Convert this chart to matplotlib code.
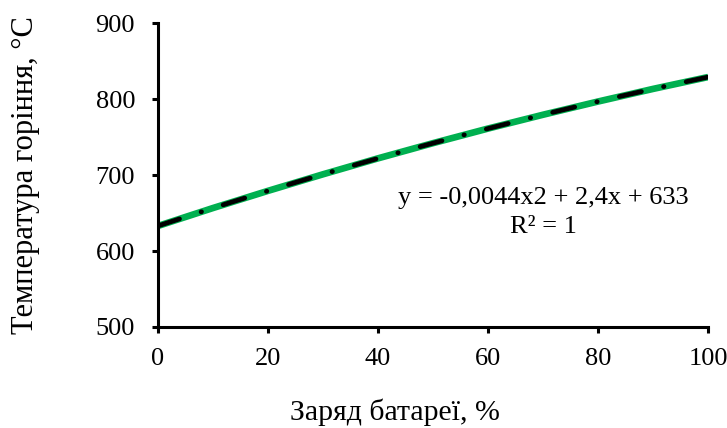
import numpy as np
import matplotlib
matplotlib.use('Agg')
import matplotlib.pyplot as plt

# Battery charge (%) vs combustion temperature (°C)
charge = [0, 10, 20, 30, 40, 50, 60, 70, 80, 90, 100]
temperature = [633, 656.6, 679.2, 701.0, 722.0, 742.0, 761.2, 779.4, 796.8, 813.4, 829]

x_ticks = [0, 20, 40, 60, 80, 100]
y_ticks = [500, 600, 700, 800, 900]

plt.rcParams['font.family'] = ['Liberation Serif', 'DejaVu Serif']

fig = plt.figure(figsize=(7.27, 4.28), dpi=100)
ax = fig.add_axes([0.2173, 0.236, 0.7567, 0.71])

# data line
ax.plot(charge, temperature, color='#00B050', linewidth=4.8, solid_capstyle='butt', zorder=2)

# polynomial trendline (2nd order)
coef = np.polyfit(charge, temperature, 2)
xs = np.linspace(charge[0], charge[-1], 200)
ax.plot(xs, np.polyval(coef, xs), color='black', linewidth=3.4,
        dashes=(4.8, 4.8, 0.1, 4.8), dash_capstyle='round', zorder=3)

ax.text(0.70, 0.424, 'y = -0,0044x2 + 2,4x + 633', transform=ax.transAxes,
        ha='center', va='center', fontsize=19)
ax.text(0.70, 0.33, 'R² = 1', transform=ax.transAxes,
        ha='center', va='center', fontsize=19)

ax.set_xlim(0, 100)
ax.set_ylim(500, 900)
ax.set_xticks(x_ticks)
ax.set_yticks(y_ticks)

for side in ['top', 'right']:
    ax.spines[side].set_visible(False)
for side in ['left', 'bottom']:
    ax.spines[side].set_linewidth(2.2)

ax.tick_params(axis='both', direction='out', length=4.5, width=2.2, labelsize=19)
ax.tick_params(axis='y', pad=12)
ax.tick_params(axis='x', pad=10.5)

ax.set_xlabel('Заряд батареї, %', fontsize=21.5)
ax.set_ylabel('Температура горіння, °С', fontsize=22, labelpad=40)
ax.xaxis.set_label_coords(0.431, -0.235)

fig.savefig('out.png', dpi=100)
